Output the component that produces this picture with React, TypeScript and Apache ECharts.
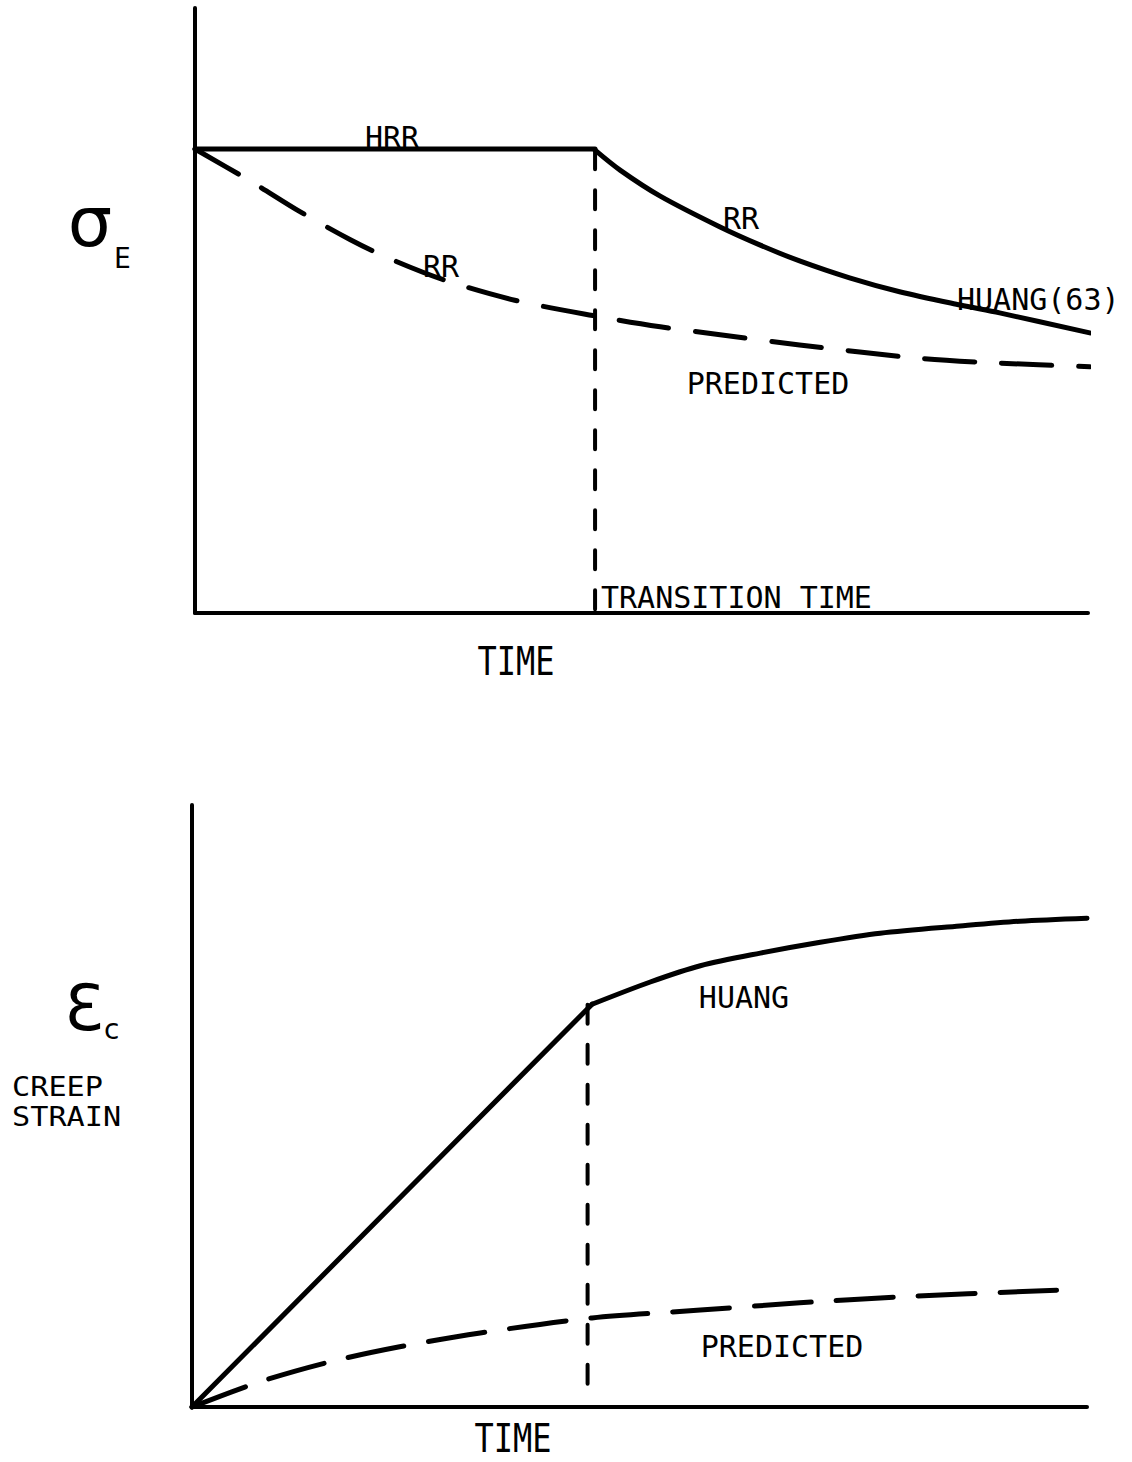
import React, { useEffect, useRef } from "react";
import * as echarts from "echarts";

// ---- Data (abstract time / value units, 0..10 on each axis) ----
const transitionTime = 4.48;
const transitionTimeLower = 4.42;

// Upper panel: effective stress
const hrrSegment: number[][] = [
  [0, 7.67],
  [4.48, 7.67],
];
const rrHuang63: number[][] = [
  [4.48, 7.65], [4.76, 7.32], [5.21, 6.89], [5.88, 6.38], [6.33, 6.08],
  [6.77, 5.82], [7.33, 5.54], [7.89, 5.31], [8.57, 5.09], [9.01, 4.96], [10.02, 4.63],
];
const predictedStress: number[][] = [
  [0, 7.67], [0.62, 7.14], [1.18, 6.63], [1.74, 6.17], [2.16, 5.87], [2.8, 5.5],
  [3.58, 5.17], [4.48, 4.91], [5.21, 4.73], [5.88, 4.6], [6.77, 4.43], [8.12, 4.21],
  [9.01, 4.13], [10.02, 4.07],
];
const transitionUpper: number[][] = [
  [transitionTime, 7.65],
  [transitionTime, 0.02],
];

// Lower panel: creep strain
const huangPrimary: number[][] = [
  [0, 0], [4.47, 6.69],
];
const huangSecondary: number[][] = [
  [4.47, 6.69], [5.12, 7.06], [5.68, 7.33], [6.35, 7.54], [7.02, 7.72],
  [7.69, 7.87], [8.58, 7.99], [9.25, 8.07], [10.0, 8.12],
];
const predictedStrain: number[][] = [
  [0, 0], [0.76, 0.42], [1.54, 0.75], [2.32, 1.0], [3.22, 1.23], [4.47, 1.48],
  [5.68, 1.61], [6.79, 1.73], [7.91, 1.83], [9.66, 1.94],
];
const transitionLower: number[][] = [
  [transitionTimeLower, 6.68],
  [transitionTimeLower, 0.2],
];

const MONO = "'DejaVu Sans Mono', monospace";
const SANS = "'DejaVu Sans', sans-serif";

export default function App() {
  const ref = useRef<HTMLDivElement>(null);

  useEffect(() => {
    document.body.style.margin = "0";
    if (!ref.current) return;
    const chart = echarts.init(ref.current, undefined, { renderer: "svg" });

    const axisCommon = {
      type: "value" as const,
      min: 0,
      max: 10,
      axisLine: { show: true, lineStyle: { color: "#000", width: 4 } },
      axisTick: { show: false },
      axisLabel: { show: false },
      splitLine: { show: false },
    };

    const solid = { color: "#000", width: 5, cap: "round", join: "round" };
    const dashedLong = { ...solid, type: [50, 27] };
    const dashedVert = { ...solid, width: 4, type: [19, 21] };

    const mk = (
      name: string,
      data: number[][],
      grid: number,
      lineStyle: any,
      smooth: number | boolean = false
    ) => ({
      name,
      type: "line",
      xAxisIndex: grid,
      yAxisIndex: grid,
      data,
      symbol: "none",
      smooth,
      clip: false,
      lineStyle,
      silent: true,
    });

    const txt = (
      text: string,
      x: number,
      y: number,
      size: number,
      align: string = "center",
      extra: any = {},
      family: string = MONO
    ) => ({
      type: "text",
      x,
      y,
      silent: true,
      ...extra,
      style: {
        text,
        x: 0,
        y: 0,
        fill: "#000",
        fontSize: size,
        fontFamily: family,
        align,
        verticalAlign: "middle",
      },
    });

    chart.setOption({
      animation: false,
      backgroundColor: "#fff",
      grid: [
        { left: 195, top: 8, width: 893, height: 605 },
        { left: 192, top: 805, width: 895, height: 602 },
      ],
      xAxis: [
        { ...axisCommon, gridIndex: 0 },
        { ...axisCommon, gridIndex: 1 },
      ],
      yAxis: [
        { ...axisCommon, gridIndex: 0 },
        { ...axisCommon, gridIndex: 1 },
      ],
      series: [
        mk("HRR", hrrSegment, 0, solid),
        mk("RR HUANG(63)", rrHuang63, 0, solid, 0.3),
        mk("PREDICTED", predictedStress, 0, dashedLong, 0.3),
        mk("TRANSITION", transitionUpper, 0, dashedVert),
        mk("HUANG primary", huangPrimary, 1, solid),
        mk("HUANG", huangSecondary, 1, solid, 0.3),
        mk("PREDICTED ", predictedStrain, 1, { ...dashedLong, type: [57, 25] }, 0.3),
        mk("TRANSITION ", transitionLower, 1, dashedVert),
      ],
      graphic: [
        // Upper panel labels
        txt("σ", 90, 222, 70, "center", {}, SANS),
        txt("E", 114, 258, 28, "left"),
        txt("HRR", 392, 137, 30),
        txt("RR", 741, 218, 30),
        txt("RR", 441, 266, 30),
        txt("HUANG(63)", 957, 299, 30, "left"),
        txt("PREDICTED", 768, 383, 30),
        txt("TRANSITION TIME", 601, 597, 30, "left"),
        txt("TIME", 516, 661, 32, "center", { scaleY: 1.22 }),
        // Lower panel labels
        txt("Ɛ", 84, 1008, 64, "center", {}, SANS),
        txt("c", 104, 1029, 28, "left", {}, SANS),
        txt("CREEP", 12, 1087, 27, "left", { scaleX: 1.12 }),
        txt("STRAIN", 12, 1117, 27, "left", { scaleX: 1.12 }),
        txt("HUANG", 744, 997, 30),
        txt("PREDICTED", 782, 1346, 30),
        txt("TIME", 513, 1438, 32, "center", { scaleY: 1.2 }),
      ],
    });

    return () => chart.dispose();
  }, []);

  return <div ref={ref} style={{ width: 1132, height: 1462 }} />;
}
